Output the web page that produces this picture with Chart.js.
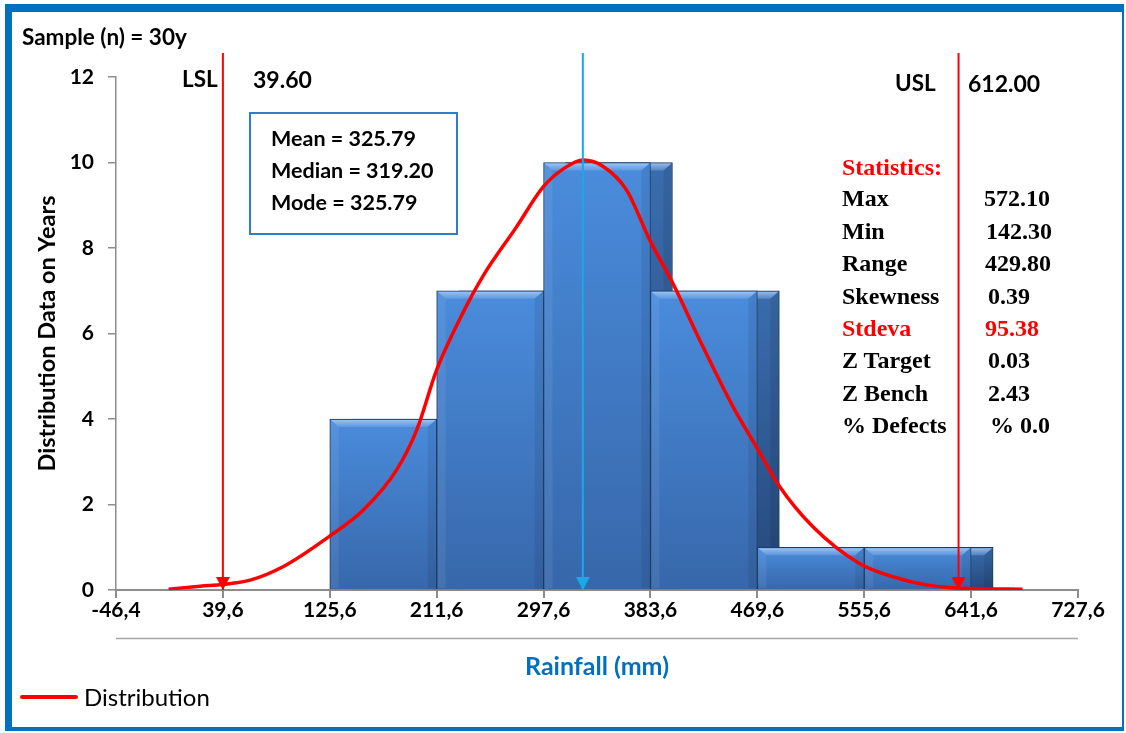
<!DOCTYPE html>
<html lang="en">
  <head>
    <meta charset="utf-8" />
    <title>Rainfall distribution</title>
    <style>
      * {
        margin: 0;
        padding: 0;
      }
      body {
        background: #fff;
        font-family: Lato, sans-serif;
      }
      .chartBox {
        position: relative;
        width: 1126px;
        height: 733px;
        overflow: hidden;
      }
      #myChart {
        position: absolute;
        left: 0;
        top: 0;
      }
      .frame {
        position: absolute;
        left: 5px;
        top: 4px;
        width: 1119px;
        height: 727px;
        box-sizing: border-box;
        border-style: solid;
        border-color: #0070c0;
        border-width: 8px 2px 4px 7px;
        pointer-events: none;
      }
      .t {
        position: absolute;
        line-height: 1;
        white-space: nowrap;
        font-weight: 700;
        color: #000;
      }
      .serif {
        font-family: "Liberation Serif", serif;
        font-size: 24px;
      }
      .red {
        color: #ff0000;
      }
      .statBox {
        position: absolute;
        left: 249px;
        top: 112px;
        width: 209px;
        height: 123px;
        box-sizing: border-box;
        border: 2px solid #2e7fc8;
        background: #fff;
      }
      .legendLine {
        position: absolute;
        left: 20px;
        top: 695px;
        width: 58px;
        height: 4px;
        border-radius: 2px;
        background: #ff0000;
      }
    </style>
  </head>
  <body>
    <div class="chartBox">
      <canvas id="myChart" width="1126" height="733"></canvas>
      <div class="frame"></div>

      <div class="t" style="left:22px;top:26px;font-size:22.5px">Sample (n) = 30y</div>
      <div class="t" style="left:182px;top:68px;font-size:22.5px">LSL</div>
      <div class="t" style="left:253px;top:68px;font-size:23px">39.60</div>
      <div class="t" style="left:895px;top:72px;font-size:22.5px">USL</div>
      <div class="t" style="left:968px;top:72px;font-size:23px">612.00</div>

      <div class="statBox"></div>
      <div class="t" style="left:271px;top:128px;font-size:21.5px">Mean = 325.79</div>
      <div class="t" style="left:271px;top:160px;font-size:21.5px">Median = 319.20</div>
      <div class="t" style="left:271px;top:192px;font-size:21.5px">Mode = 325.79</div>

      <div class="t serif red" style="left:842px;top:155px">Statistics:</div>
      <div class="t serif" style="left:842px;top:186px">Max</div>
      <div class="t serif" style="left:984px;top:186px">572.10</div>
      <div class="t serif" style="left:842px;top:219px">Min</div>
      <div class="t serif" style="left:986px;top:219px">142.30</div>
      <div class="t serif" style="left:842px;top:251px">Range</div>
      <div class="t serif" style="left:985px;top:251px">429.80</div>
      <div class="t serif" style="left:842px;top:284px">Skewness</div>
      <div class="t serif" style="left:988px;top:284px">0.39</div>
      <div class="t serif red" style="left:842px;top:316px">Stdeva</div>
      <div class="t serif red" style="left:985px;top:316px">95.38</div>
      <div class="t serif" style="left:842px;top:348px">Z Target</div>
      <div class="t serif" style="left:988px;top:348px">0.03</div>
      <div class="t serif" style="left:842px;top:381px">Z Bench</div>
      <div class="t serif" style="left:988px;top:381px">2.43</div>
      <div class="t serif" style="left:842px;top:413px">% Defects</div>
      <div class="t serif" style="left:990px;top:413px">% 0.0</div>

      <div class="legendLine"></div>
      <div class="t" style="left:84px;top:685px;font-size:24px;font-weight:400">Distribution</div>
    </div>

    <script src="https://cdn.jsdelivr.net/npm/chart.js/dist/chart.umd.min.js"></script>
    <script>
      // histogram bins (centres) and counts
      const binCenters = [168.6, 254.6, 340.6, 426.6, 512.6, 598.6];
      const binCounts = [4, 7, 10, 7, 1, 1];

      // axis ticks
      const xTicks = [-46.4, 39.6, 125.6, 211.6, 297.6, 383.6, 469.6, 555.6, 641.6, 727.6];
      const yTicks = [0, 2, 4, 6, 8, 10, 12];

      // distribution curve
      const curveX = [-4.1, 21.4, 39.6, 61.5, 88.3, 125, 152.6, 179.4, 195.5, 211.6, 233, 249, 276, 297.3, 315, 329.4, 345, 364.3, 383, 401.7, 423.2, 450, 468.8, 487.5, 514.3, 551.8, 578.6, 605.4, 632.2, 683];
      const curveY = [0.02, 0.09, 0.13, 0.23, 0.55, 1.25, 1.87, 2.81, 3.74, 5.15, 6.5, 7.35, 8.5, 9.43, 9.88, 10.06, 9.92, 9.36, 8.19, 7.17, 5.85, 4.29, 3.35, 2.42, 1.48, 0.62, 0.31, 0.12, 0.04, 0.02];

      // vertical markers: LSL, mean, USL (positions as drawn)
      const markerX = [39.6, 329.2, 631.5];
      const markerTop = 12.56;
      const markerColors = ["#ff0000", "#1aa9e6", "#ff0000"];

      const depth = 17.7; // width of the dark side face, in x units
      const tickFont = { family: "Lato", size: 21, weight: "bold" };

      function arrowHead(color) {
        const c = document.createElement("canvas");
        c.width = 16;
        c.height = 28;
        const g = c.getContext("2d");
        g.fillStyle = color;
        g.beginPath();
        g.moveTo(1, 1);
        g.lineTo(15, 1);
        g.lineTo(8, 14);
        g.closePath();
        g.fill();
        return c;
      }

      function barFill(top, bottom) {
        return (ctx) => {
          const chart = ctx.chart;
          if (!chart.chartArea || !ctx.parsed) return bottom;
          const y = chart.scales.y;
          const g = chart.ctx.createLinearGradient(0, y.getPixelForValue(ctx.parsed.y), 0, y.getPixelForValue(0));
          g.addColorStop(0, top);
          g.addColorStop(1, bottom);
          return g;
        };
      }

      // light bevel along the top of each bar
      const bevel = {
        id: "bevel",
        afterDatasetDraw(chart, args) {
          const meta = args.meta;
          if (meta.type !== "bar") return;
          const ctx = chart.ctx;
          const b = 8;
          meta.data.forEach((bar) => {
            const { x, y, base, width } = bar.getProps(["x", "y", "base", "width"], true);
            const l = x - width / 2 + 1;
            const r = x + width / 2 - 1;
            ctx.save();
            const g = ctx.createLinearGradient(0, y, 0, y + b);
            g.addColorStop(0, "rgba(190,220,250,0.8)");
            g.addColorStop(1, "rgba(130,175,235,0.4)");
            ctx.fillStyle = g;
            ctx.beginPath();
            ctx.moveTo(l, y + 1);
            ctx.lineTo(r, y + 1);
            ctx.lineTo(r - b, y + b);
            ctx.lineTo(l + b, y + b);
            ctx.closePath();
            ctx.fill();
            ctx.fillStyle = "rgba(255,255,255,0.07)";
            ctx.beginPath();
            ctx.moveTo(l, y + 1);
            ctx.lineTo(l + b, y + b);
            ctx.lineTo(l + b, base - 1);
            ctx.lineTo(l, base - 1);
            ctx.closePath();
            ctx.fill();
            ctx.fillStyle = "rgba(0,0,0,0.08)";
            ctx.beginPath();
            ctx.moveTo(r, y + 1);
            ctx.lineTo(r - b, y + b);
            ctx.lineTo(r - b, base - 1);
            ctx.lineTo(r, base - 1);
            ctx.closePath();
            ctx.fill();
            ctx.restore();
          });
        },
      };

      // thin grey rule between tick labels and axis title
      const underAxisLine = {
        id: "underAxisLine",
        afterDraw(chart) {
          const { ctx, chartArea, scales } = chart;
          const y = scales.x.top + 48.5;
          ctx.save();
          ctx.strokeStyle = "#a6a6a6";
          ctx.lineWidth = 1.5;
          ctx.beginPath();
          ctx.moveTo(chartArea.left, y);
          ctx.lineTo(chartArea.right, y);
          ctx.stroke();
          ctx.restore();
        },
      };

      const barPoints = binCenters.map((x, i) => ({ x, y: binCounts[i] }));

      const data = {
        datasets: [
          {
            type: "bar",
            label: "side",
            data: barPoints,
            xAxisID: "x2",
            grouped: false,
            barPercentage: 1,
            categoryPercentage: 1,
            backgroundColor: barFill("#3a6dae", "#25487a"),
            borderColor: "#1b365c",
            borderWidth: 1,
            order: 5,
          },
          {
            type: "bar",
            label: "Frequency",
            data: barPoints,
            xAxisID: "x",
            grouped: false,
            barPercentage: 1,
            categoryPercentage: 1,
            backgroundColor: barFill("#4a8cdc", "#3767aa"),
            borderColor: "#1e3a62",
            borderWidth: 1,
            order: 4,
          },
          {
            type: "line",
            label: "Distribution",
            data: curveX.map((x, i) => ({ x, y: curveY[i] })),
            borderColor: "#ff0000",
            borderWidth: 3.5,
            pointRadius: 0,
            cubicInterpolationMode: "monotone",
            order: 2,
          },
          ...markerX.map((v, i) => ({
            type: "line",
            label: "marker" + i,
            data: [
              { x: v, y: markerTop },
              { x: v, y: 0 },
            ],
            borderColor: markerColors[i],
            borderWidth: 2,
            pointRadius: [0, 6],
            pointHoverRadius: [0, 6],
            pointStyle: arrowHead(markerColors[i]),
            clip: false,
            order: 1,
          })),
        ],
      };

      const config = {
        data,
        options: {
          responsive: false,
          animation: false,
          events: [],
          layout: { padding: { left: 33, top: 77, right: 48, bottom: 51 } },
          plugins: {
            legend: { display: false },
            tooltip: { enabled: false },
          },
          scales: {
            x: {
              type: "linear",
              position: "bottom",
              offset: false,
              min: xTicks[0],
              max: xTicks[xTicks.length - 1],
              afterBuildTicks: (s) => {
                s.ticks = xTicks.map((value) => ({ value }));
              },
              afterFit: (s) => {
                s.height = 92;
              },
              grid: {
                offset: false,
                drawOnChartArea: false,
                tickLength: 8,
                color: "#8c8c8c",
                lineWidth: 2,
              },
              border: { color: "#8c8c8c", width: 2 },
              ticks: {
                font: tickFont,
                color: "#000",
                padding: 0,
                maxRotation: 0,
                autoSkip: false,
                callback: (v) => Number(v).toFixed(1).replace(".", ","),
              },
              title: {
                display: true,
                text: "Rainfall (mm)",
                color: "#0070c0",
                font: { family: "Lato", size: 25, weight: "bold" },
                padding: 0,
              },
            },
            x2: {
              type: "linear",
              display: false,
              offset: false,
              grid: { offset: false },
              min: xTicks[0] - depth,
              max: xTicks[xTicks.length - 1] - depth,
              afterBuildTicks: (s) => {
                s.ticks = xTicks.map((value) => ({ value: value - depth }));
              },
            },
            y: {
              min: 0,
              max: 12,
              afterBuildTicks: (s) => {
                s.ticks = yTicks.map((value) => ({ value }));
              },
              afterFit: (s) => {
                s.width = 83;
              },
              grid: {
                drawOnChartArea: false,
                tickLength: 8,
                color: "#8c8c8c",
                lineWidth: 1.5,
              },
              border: { color: "#8c8c8c", width: 1.5 },
              ticks: { font: tickFont, color: "#000", padding: 14 },
              title: {
                display: true,
                text: "Distribution Data on Years",
                color: "#000",
                font: { family: "Lato", size: 23.5, weight: "bold" },
                padding: 0,
              },
            },
          },
        },
        plugins: [bevel, underAxisLine],
      };

      const myChart = new Chart(document.getElementById("myChart"), config);
    </script>
  </body>
</html>
